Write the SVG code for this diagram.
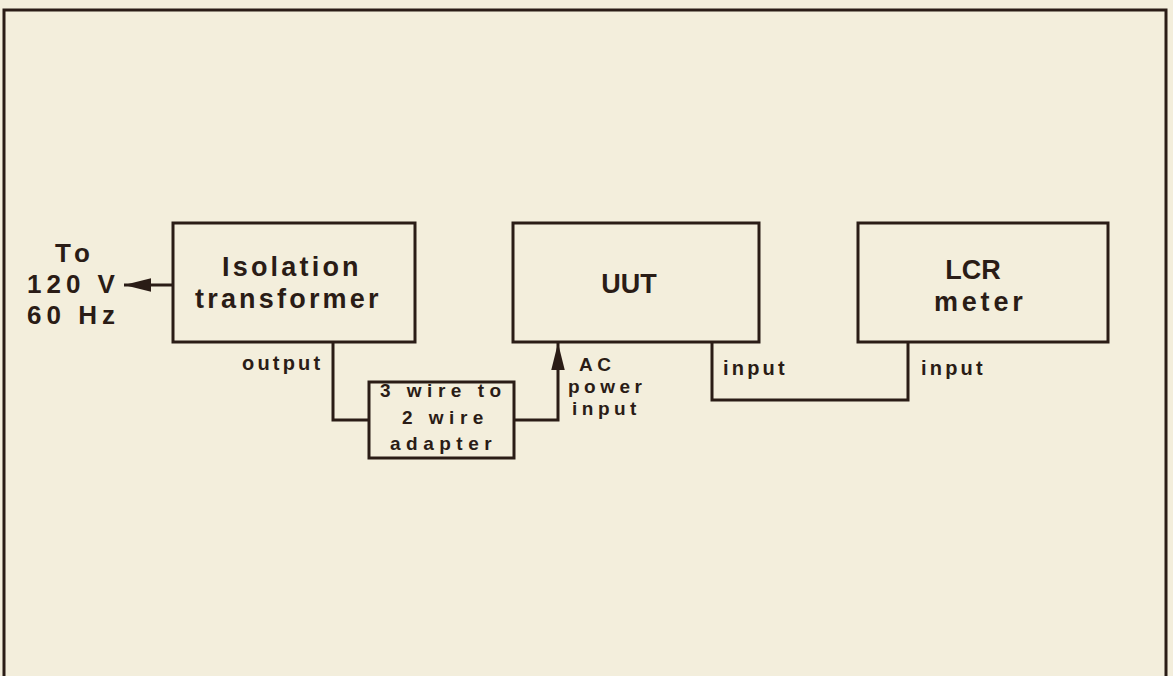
<svg xmlns="http://www.w3.org/2000/svg" width="1173" height="676" viewBox="0 0 1173 676">
<style>
.bg{fill:#f3eedc}
.box{fill:none;stroke:#2a1c16;stroke-width:3}
.wire{fill:none;stroke:#2a1c16;stroke-width:3}
.t{font-family:"Liberation Sans",Arial,sans-serif;font-weight:bold;fill:#2a1c16}
.big{font-size:27px;letter-spacing:3.2px}
.mains{font-size:26px;letter-spacing:5px}
.mid{font-size:20px;letter-spacing:3.2px}
.ac{font-size:19px;letter-spacing:4.5px}
.sm{font-size:19px;letter-spacing:5.5px}
</style>
<defs>
<marker id="ah" viewBox="0 0 20 10" refX="20" refY="5" markerWidth="9" markerHeight="4.7" markerUnits="strokeWidth" orient="auto">
<path d="M0,0 L20,5 L0,10 z" fill="#2a1c16"/>
</marker>
</defs>
<rect class="bg" x="0" y="0" width="1173" height="676"/>
<g id="frame">
<path class="wire" d="M4,676 L4,10 L1166,10 L1166,676"/>
</g>
<g id="connectors">
<path class="wire" d="M173,285 L124,285" marker-end="url(#ah)"/>
<path class="wire" d="M333,342 L333,420 L369,420"/>
<path class="wire" d="M514,420 L558,420 L558,343" marker-end="url(#ah)"/>
<path class="wire" d="M712,342 L712,400 L908,400 L908,342"/>
</g>
<g id="mains">
<text class="t mains" x="55" y="262">To</text>
<text class="t mains" x="27" y="293">120 V</text>
<text class="t mains" x="27" y="324">60 Hz</text>
</g>
<g id="isolation">
<rect class="box" x="173" y="223" width="242" height="119"/>
<text class="t big" x="222" y="276">Isolation</text>
<text class="t big" x="195" y="308">transformer</text>
</g>
<g id="adapter">
<rect class="box" x="369" y="382" width="145" height="76"/>
<text class="t sm" x="380" y="397">3 wire to</text>
<text class="t sm" x="402" y="424">2 wire</text>
<text class="t sm" x="390" y="450">adapter</text>
</g>
<g id="uut">
<rect class="box" x="513" y="223" width="246" height="119"/>
<text class="t big" x="629" y="293" text-anchor="middle" style="letter-spacing:0px">UUT</text>
</g>
<g id="lcr">
<rect class="box" x="858" y="223" width="250" height="119"/>
<text class="t big" x="973" y="279" text-anchor="middle" style="letter-spacing:0px">LCR</text>
<text class="t big" x="934" y="311" style="letter-spacing:3.8px">meter</text>
</g>
<g id="labels">
<text class="t mid" x="242" y="370">output</text>
<text class="t ac" x="579" y="371">AC</text>
<text class="t ac" x="568" y="393">power</text>
<text class="t ac" x="572" y="415">input</text>
<text class="t mid" x="723" y="375">input</text>
<text class="t mid" x="921" y="375">input</text>
</g>
</svg>
